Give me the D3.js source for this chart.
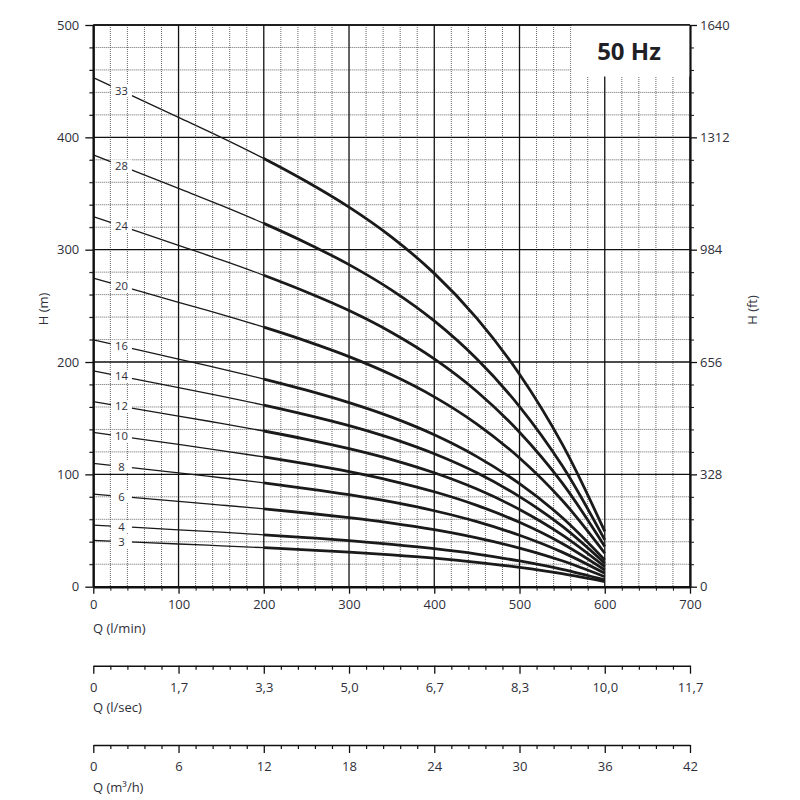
<!DOCTYPE html>
<html>
<head>
<meta charset="utf-8">
<script src="https://cdn.jsdelivr.net/npm/d3@7"></script>
<style>
  body { margin: 0; background: #fff; }
  text { font-family: "Open Sans", "Noto Sans", sans-serif; fill: #2f2f3a; }
</style>
</head>
<body>
<div id="wrapper"></div>
<script>
// flow points (l/min) where the curves were read
const flowLpm = [0, 100, 150, 200, 250, 300, 350, 400, 450, 500, 550, 600];

// number of stages of each curve
const stages = [3, 4, 6, 8, 10, 12, 14, 16, 20, 24, 28, 33];

// head (m) at the flow points above
const head3  = [41.2, 38.0, 36.4, 34.7, 32.8, 30.7, 28.3, 25.4, 21.7, 17.2, 11.6, 4.5];
const head4  = [54.9, 50.6, 48.5, 46.2, 43.7, 41.0, 37.7, 33.8, 29.0, 22.9, 15.4, 6.0];
const head6  = [82.4, 76.0, 72.7, 69.3, 65.6, 61.4, 56.6, 50.7, 43.4, 34.4, 23.1, 8.9];
const head8  = [109.8, 101.3, 97.0, 92.4, 87.4, 81.9, 75.4, 67.6, 57.9, 45.8, 30.8, 11.9];
const head10 = [137.3, 126.6, 121.2, 115.5, 109.3, 102.4, 94.3, 84.5, 72.4, 57.3, 38.5, 14.9];
const head12 = [164.8, 151.9, 145.4, 138.6, 131.2, 122.9, 113.2, 101.4, 86.9, 68.8, 46.2, 17.9];
const head14 = [192.2, 177.2, 169.7, 161.7, 153.0, 143.4, 132.0, 118.3, 101.4, 80.2, 53.9, 20.9];
const head16 = [219.7, 202.6, 193.9, 184.8, 174.9, 163.8, 150.9, 135.2, 115.8, 91.7, 61.6, 23.8];
const head20 = [274.6, 253.2, 242.4, 231.0, 218.6, 204.8, 188.6, 169.0, 144.8, 114.6, 77.0, 29.8];
const head24 = [329.5, 303.8, 290.9, 277.2, 262.3, 245.8, 226.3, 202.8, 173.8, 137.5, 92.4, 35.8];
const head28 = [384.4, 354.5, 339.4, 323.4, 306.0, 286.7, 264.0, 236.6, 202.7, 160.4, 107.8, 41.7];
const head33 = [453.1, 417.8, 400.0, 381.2, 360.7, 337.9, 311.2, 278.9, 238.9, 189.1, 127.1, 49.2];

const heads = [head3, head4, head6, head8, head10, head12, head14, head16, head20, head24, head28, head33];

// tick labels
const mTicks = [0, 100, 200, 300, 400, 500];
const ftLabels = ['0', '328', '656', '984', '1312', '1640'];
const lpmTicks = [0, 100, 200, 300, 400, 500, 600, 700];
const lsecLabels = ['0', '1,7', '3,3', '5,0', '6,7', '8,3', '10,0', '11,7'];
const m3hLabels = ['0', '6', '12', '18', '24', '30', '36', '42'];

const svg = d3.select('#wrapper').append('svg').attr('width', 800).attr('height', 800);

const x = d3.scaleLinear().domain([0, 700]).range([93.3, 690]);
const y = d3.scaleLinear().domain([0, 500]).range([586.7, 25]);

// grid
const minor = d3.range(0, 701, 20).filter((d) => d % 100 !== 0);
const minorY = d3.range(0, 501, 20).filter((d) => d % 100 !== 0);

const grid = svg.append('g');
grid.selectAll('.vmin').data(minor).enter().append('line')
  .attr('x1', (d) => x(d)).attr('x2', (d) => x(d))
  .attr('y1', y(500)).attr('y2', y(0))
  .attr('stroke', '#555').attr('stroke-width', 0.9).attr('stroke-dasharray', '1,1');
grid.selectAll('.hmin').data(minorY).enter().append('line')
  .attr('x1', x(0) - 3).attr('x2', x(700))
  .attr('y1', (d) => y(d)).attr('y2', (d) => y(d))
  .attr('stroke', '#555').attr('stroke-width', 0.9).attr('stroke-dasharray', '1,1');
grid.selectAll('.vmaj').data(lpmTicks).enter().append('line')
  .attr('x1', (d) => x(d)).attr('x2', (d) => x(d))
  .attr('y1', y(500)).attr('y2', y(0))
  .attr('stroke', '#111').attr('stroke-width', 1.3);
grid.selectAll('.hmaj').data(mTicks).enter().append('line')
  .attr('x1', x(0)).attr('x2', x(700))
  .attr('y1', (d) => y(d)).attr('y2', (d) => y(d))
  .attr('stroke', '#111').attr('stroke-width', 1.3);

// curves: thin below 200 l/min, thick from 200 l/min on
svg.append('clipPath').attr('id', 'thin')
  .append('rect').attr('x', 0).attr('y', 0).attr('width', x(200)).attr('height', 800);
svg.append('clipPath').attr('id', 'thick')
  .append('rect').attr('x', x(200)).attr('y', 0).attr('width', 800).attr('height', 800);

const line = d3.line().x((d) => x(d[0])).y((d) => y(d[1])).curve(d3.curveCatmullRom.alpha(0.5));

const curves = svg.append('g');
heads.forEach((h) => {
  const d = line(flowLpm.map((q, i) => [q, h[i]]));
  curves.append('path').attr('d', d).attr('clip-path', 'url(#thin)')
    .attr('fill', 'none').attr('stroke', '#1a1a1a').attr('stroke-width', 1.3);
  curves.append('path').attr('d', d).attr('clip-path', 'url(#thick)')
    .attr('fill', 'none').attr('stroke', '#1a1a1a').attr('stroke-width', 2.8);
});

// stage labels on the curves
const labelQ = 33;
const labels = svg.append('g');
stages.forEach((s, i) => {
  const h = heads[i];
  const hy = h[0] + (h[1] - h[0]) * (labelQ - flowLpm[0]) / (flowLpm[1] - flowLpm[0]);
  labels.append('rect')
    .attr('x', x(labelQ) - 10.5).attr('y', y(hy) - 6.5)
    .attr('width', 21).attr('height', 13)
    .attr('fill', '#fff');
  labels.append('text')
    .attr('x', x(labelQ)).attr('y', y(hy) + 4)
    .attr('text-anchor', 'middle').attr('font-size', 11.3)
    .text(s);
});

// 50 Hz box
svg.append('rect').attr('x', 571.5).attr('y', y(500)).attr('width', 690 - 571.5).attr('height', 76.5 - y(500))
  .attr('fill', '#fff');
svg.append('text').attr('x', 629).attr('y', 60)
  .attr('text-anchor', 'middle').attr('font-size', 24).attr('font-weight', 'bold')
  .style('fill', '#1f1f25')
  .text('50 Hz');

// axes
function styleAxis(g, w) {
  g.select('.domain').attr('stroke', '#111').attr('stroke-width', w);
  g.selectAll('.tick line').attr('stroke', '#111').attr('stroke-width', 1.3);
  g.selectAll('.tick text').attr('font-size', 13).style('font-family', '"Open Sans", "Noto Sans", sans-serif').style('fill', '#2f2f3a');
}

// left minor ticks
svg.append('g').attr('transform', `translate(${x(0)},0)`)
  .call(d3.axisLeft(y).tickValues(minorY).tickSize(4).tickFormat(''))
  .call((g) => { g.select('.domain').remove(); g.selectAll('line').attr('stroke', '#111'); });
const left = svg.append('g').attr('transform', `translate(${x(0)},0)`)
  .call(d3.axisLeft(y).tickValues(mTicks).tickSize(8).tickSizeOuter(0).tickPadding(6));
styleAxis(left, 2.2);

// right axis (ft)
svg.append('g').attr('transform', `translate(${x(700)},0)`)
  .call(d3.axisRight(y).tickValues(minorY).tickSize(4).tickFormat(''))
  .call((g) => { g.select('.domain').remove(); g.selectAll('line').attr('stroke', '#111'); });
const right = svg.append('g').attr('transform', `translate(${x(700)},0)`)
  .call(d3.axisRight(y).tickValues(mTicks).tickSize(7).tickSizeOuter(0).tickPadding(3)
    .tickFormat((d, i) => ftLabels[i]));
styleAxis(right, 2.2);

// top border
svg.append('line').attr('x1', x(0)).attr('x2', x(700)).attr('y1', y(500)).attr('y2', y(500))
  .attr('stroke', '#111').attr('stroke-width', 1.5);

// bottom axis l/min
svg.append('g').attr('transform', `translate(0,${y(0)})`)
  .call(d3.axisBottom(x).tickValues(minor).tickSize(4).tickFormat(''))
  .call((g) => { g.select('.domain').remove(); g.selectAll('line').attr('stroke', '#111'); });
const bottom = svg.append('g').attr('transform', `translate(0,${y(0)})`)
  .call(d3.axisBottom(x).tickValues(lpmTicks).tickSize(7).tickSizeOuter(0).tickPadding(6));
styleAxis(bottom, 2.6);

// secondary flow axes
function flowAxis(yPos, labs) {
  svg.append('g').attr('transform', `translate(0,${yPos})`)
    .call(d3.axisBottom(x).tickValues(minor).tickSize(4).tickFormat(''))
    .call((g) => { g.select('.domain').remove(); g.selectAll('line').attr('stroke', '#111').attr('stroke-width', 1.2); });
  const g = svg.append('g').attr('transform', `translate(0,${yPos})`)
    .call(d3.axisBottom(x).tickValues(lpmTicks).tickSize(8).tickSizeOuter(0).tickPadding(9)
      .tickFormat((d, i) => labs[i]));
  styleAxis(g, 1.6);
}
flowAxis(665.7, lsecLabels);
flowAxis(745, m3hLabels);

// axis titles
const titles = [
  { t: 'Q (l/min)', x: 93, y: 633 },
  { t: 'Q (l/sec)', x: 93, y: 712 },
  { t: 'Q (m\u00b3/h)', x: 93, y: 792 },
];
svg.selectAll('.qtitle').data(titles).enter().append('text')
  .attr('x', (d) => d.x).attr('y', (d) => d.y).attr('font-size', 13)
  .text((d) => d.t);

svg.append('text').attr('transform', 'translate(48,309) rotate(-90)')
  .attr('text-anchor', 'middle').attr('font-size', 13).text('H (m)');
svg.append('text').attr('transform', 'translate(757,310) rotate(-90)')
  .attr('text-anchor', 'middle').attr('font-size', 13).text('H (ft)');
</script>
</body>
</html>
